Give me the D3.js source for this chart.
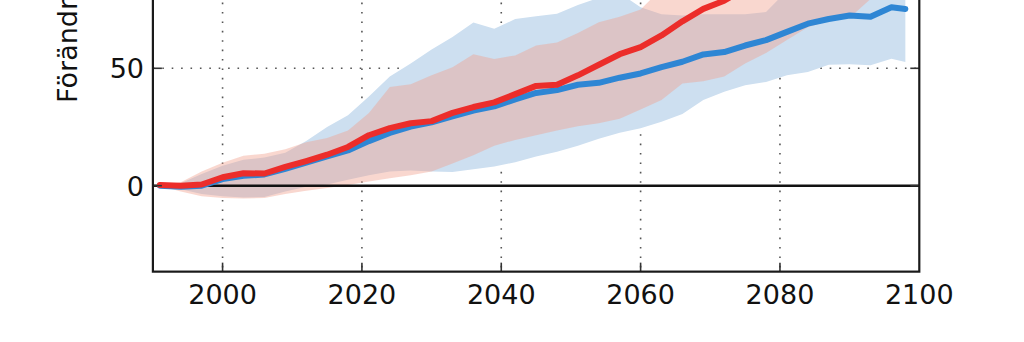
<!DOCTYPE html>
<html>
<head>
<meta charset="utf-8">
<script src="https://cdn.jsdelivr.net/npm/d3@7"></script>
<style>
  html, body { margin: 0; padding: 0; background: #fff; }
  svg { display: block; font-family: "DejaVu Sans", sans-serif; }
</style>
</head>
<body>
<svg id="chart" width="1024" height="342"></svg>
<script>
// values, every ~3 years
const years = [1991, 1994, 1997, 2000, 2003, 2006, 2009, 2012, 2015, 2018, 2021, 2024,
  2027, 2030, 2033, 2036, 2039, 2042, 2045, 2048, 2051, 2054, 2057, 2060, 2063, 2066,
  2069, 2072, 2075, 2078, 2081, 2084, 2087, 2090, 2093, 2096, 2098];

const blueMean = [0, -0.5, 0, 2.8, 4.2, 4.8, 7.2, 9.8, 12.5, 15, 19, 22.5,
  25.2, 27, 29.5, 32, 33.8, 36.8, 39.5, 40.7, 43, 43.8, 46, 47.8, 50.5, 52.8,
  55.9, 56.9, 59.7, 62, 65.5, 69, 71, 72.5, 72, 76, 75.3];
const blueLow = [0, -1.5, -3.5, -4.5, -5, -4.8, -2.5, -0.5, 0.5, 2.5, 4.5, 6,
  6.5, 6, 5.8, 7, 8.2, 10, 12.4, 14.5, 17, 20, 22.5, 24.5, 27.2, 30.5,
  36.5, 40, 42.8, 44.2, 47, 48.4, 51.5, 51.7, 51.3, 54.1, 52.7];
const blueHigh = [0, 1, 5, 8.5, 11, 12, 14, 19, 25, 30, 38, 46.5,
  52, 58, 63.3, 69.5, 66.8, 71, 72.2, 73.2, 77, 80, 82, 76, 73, 72.5,
  73, 73, 73, 74, 83, 86, 89, 91, 92, 93, 93];

const redMean = [0.3, 0, 0.5, 3.6, 5.3, 5.2, 8, 10.5, 13.2, 16.5, 21.5, 24.5,
  26.6, 27.5, 31, 33.5, 35.5, 39, 42.5, 43, 47, 51.5, 56, 59, 64, 70,
  75.3, 78.8, 84, 88, 92, 96, 100, 104, 108, 112, 115];
const redLow = [0, -2.5, -4.5, -5.2, -5.5, -5.2, -3.5, -2.2, -1, 0.3, 1.8, 3.2,
  4.5, 6, 9.5, 13, 17, 19.5, 21.5, 23.5, 25.3, 26.6, 28.5, 32.5, 36.5, 43.5,
  44.5, 46.5, 52, 56.5, 62, 67.5, 70.3, 71.5, 79.5, 84, 86];
const redHigh = [0, 1.5, 6, 9.8, 12.8, 13.6, 15.5, 18.5, 20.3, 23.5, 31, 42,
  43.2, 47, 50.5, 56, 54, 55.5, 59.7, 61, 65, 69.6, 72, 75, 84, 90,
  96, 101, 106, 110, 114, 118, 123, 127, 131, 135, 137];

const xTicks = [2000, 2020, 2040, 2060, 2080, 2100];
const yTicks = [0, 50];
const yLabel = "Förändring (%)";

const svg = d3.select("#chart");

const x = d3.scaleLinear().domain([1990, 2100]).range([152.9, 919.3]);
const y = d3.scaleLinear().domain([0, 50]).range([185.7, 68.3]);
const yBottom = -36.6;
const yTop = 110;

const pL = x(1990), pR = x(2100), pB = y(yBottom), pT = y(yTop);

svg.append("clipPath").attr("id", "plot")
  .append("rect")
  .attr("x", pL).attr("y", pT)
  .attr("width", pR - pL).attr("height", pB - pT);

const g = svg.append("g").attr("clip-path", "url(#plot)");

// grid
g.selectAll("line.vgrid")
  .data(xTicks.filter(d => d < 2100))
  .join("line")
  .attr("x1", d => x(d)).attr("x2", d => x(d))
  .attr("y1", pT).attr("y2", pB)
  .attr("stroke", "#555").attr("stroke-width", 1.6)
  .attr("stroke-dasharray", "1.6,7.8");

g.selectAll("line.hgrid")
  .data(yTicks.filter(d => d !== 0))
  .join("line")
  .attr("x1", pL).attr("x2", pR)
  .attr("y1", d => y(d)).attr("y2", d => y(d))
  .attr("stroke", "#555").attr("stroke-width", 1.6)
  .attr("stroke-dasharray", "1.6,7.8");

// bands
const band = (lo, hi) => d3.area()
  .x((d, i) => x(years[i]))
  .y0((d, i) => y(lo[i]))
  .y1((d, i) => y(hi[i]));

g.append("path").datum(years)
  .attr("d", band(blueLow, blueHigh))
  .attr("fill", "#cddff0");

g.append("path").datum(years)
  .attr("d", band(redLow, redHigh))
  .attr("fill", "#f0a08c").attr("fill-opacity", 0.42);

// zero line
g.append("line")
  .attr("x1", pL).attr("x2", pR)
  .attr("y1", y(0)).attr("y2", y(0))
  .attr("stroke", "#111").attr("stroke-width", 2.6);

// means
const line = vals => d3.line()
  .x((d, i) => x(years[i]))
  .y((d, i) => y(vals[i]));

g.append("path").datum(years)
  .attr("d", line(blueMean))
  .attr("fill", "none").attr("stroke", "#2e86d4")
  .attr("stroke-width", 6).attr("stroke-linejoin", "round").attr("stroke-linecap", "round");

g.append("path").datum(years)
  .attr("d", line(redMean))
  .attr("fill", "none").attr("stroke", "#ec2d2a")
  .attr("stroke-width", 6).attr("stroke-linejoin", "round").attr("stroke-linecap", "round");

// ticks, inward on all sides
const tickLen = 9;
svg.selectAll("line.xt")
  .data(xTicks.filter(d => d > 1990 && d < 2100))
  .join("line")
  .attr("x1", d => x(d)).attr("x2", d => x(d))
  .attr("y1", pB).attr("y2", pB - tickLen)
  .attr("stroke", "#333").attr("stroke-width", 1.6);

svg.selectAll("line.ytl")
  .data(yTicks)
  .join("line")
  .attr("x1", pL).attr("x2", pL + tickLen)
  .attr("y1", d => y(d)).attr("y2", d => y(d))
  .attr("stroke", "#333").attr("stroke-width", 1.6);

svg.selectAll("line.ytr")
  .data(yTicks)
  .join("line")
  .attr("x1", pR).attr("x2", pR - tickLen)
  .attr("y1", d => y(d)).attr("y2", d => y(d))
  .attr("stroke", "#333").attr("stroke-width", 1.6);

// frame
svg.append("rect")
  .attr("x", pL).attr("y", pT)
  .attr("width", pR - pL).attr("height", pB - pT)
  .attr("fill", "none").attr("stroke", "#1a1a1a").attr("stroke-width", 2.2);

// tick labels
svg.selectAll("text.xl")
  .data(xTicks)
  .join("text")
  .attr("x", d => x(d)).attr("y", 304)
  .attr("text-anchor", "middle")
  .attr("font-size", 27).attr("fill", "#111")
  .text(d => d);

svg.selectAll("text.yl")
  .data(yTicks)
  .join("text")
  .attr("x", 144).attr("y", d => y(d) + 10)
  .attr("text-anchor", "end")
  .attr("font-size", 27).attr("fill", "#111")
  .text(d => d);

svg.append("text")
  .attr("transform", "translate(77,103) rotate(-90)")
  .attr("font-size", 27).attr("fill", "#111")
  .text(yLabel);
</script>
</body>
</html>
